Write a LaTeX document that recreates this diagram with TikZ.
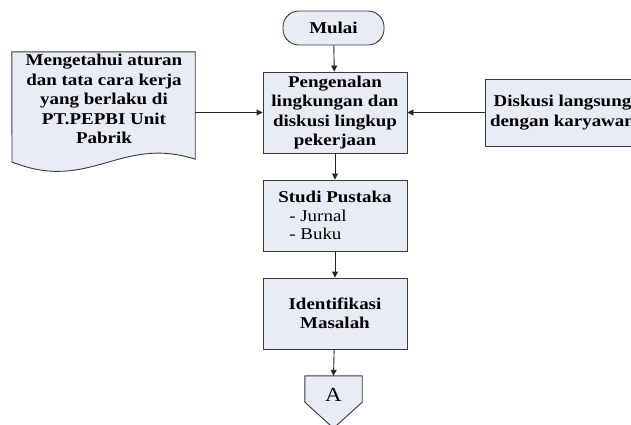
\documentclass[tikz,border=0pt]{standalone}
\usepackage{fontspec}
\setmainfont[FakeStretch=1.15]{Liberation Serif}
\usetikzlibrary{arrows.meta,calc}
\definecolor{boxfill}{HTML}{E7ECF7}
\definecolor{edge}{HTML}{3A3A3A}
\tikzset{
  shape frame/.style={draw=edge, fill=boxfill, line width=0.9pt},
  box/.style={shape frame, rectangle, align=center, inner sep=0pt,
    minimum width=144pt, font=\bfseries\fontsize{16.5}{19.5}\selectfont},
  label text/.style={align=center, inner sep=0pt,
    font=\bfseries\fontsize{16.5}{19.5}\selectfont},
  link/.style={draw=black!85, line width=0.9pt,
    -{Triangle[length=6pt,width=6pt]}},
}
\begin{document}
\begin{tikzpicture}[x=1pt,y=-1pt]
\useasboundingbox (0,0) rectangle (631,424);
\clip (0,0) rectangle (631,424);

% start terminal
\node[shape frame, rounded corners=16pt, minimum width=101pt, minimum height=34pt,
      inner sep=0pt, font=\bfseries\fontsize{16.5}{19.5}\selectfont] (mulai) at (333.5,28) {Mulai};

% main column
\node[box, minimum height=81pt] (peng) at (335,112.5)
  {Pengenalan\\lingkungan dan\\diskusi lingkup\\pekerjaan};
\node[box, minimum height=71pt, align=left] (studi) at (335,215.5)
  {\textbf{Studi Pustaka}\\[-1pt]
   \mdseries\hspace*{11pt}- Jurnal\\[-1pt]
   \mdseries\hspace*{11pt}- Buku};
\node[box, minimum height=71pt] (ident) at (335,313.5) {Identifikasi\\Masalah};

% off-page connector
\node[inner sep=0pt, minimum width=57pt, minimum height=26pt,
      font=\fontsize{20}{22}\selectfont] (offpage) at (333.5,389) {};
\path[shape frame] (offpage.north west) -- (offpage.north east) -- (offpage.south east)
  -- ($(offpage.south)+(0,26)$) -- (offpage.south west) -- cycle;
\node[inner sep=0pt, font=\fontsize{20}{22}\selectfont] (alabel) at (333.5,395) {A};

% document shape on the left
\node[inner sep=0pt, minimum width=183pt, minimum height=107pt] (doc) at (103.5,105.5) {};
\path[shape frame] (doc.north west) -- (doc.north east) -- (doc.south east)
  .. controls (120,135) and (90,193) .. (12,162) -- cycle;
\node[label text] (doctext) at (104,99)
  {Mengetahui aturan\\dan tata cara kerja\\yang berlaku di\\PT.PEPBI Unit\\Pabrik};

% input box on the right
\node[box, minimum width=155pt, minimum height=67pt] (disk) at (562.5,112.5)
  {Diskusi langsung\\dengan karyawan};

% connectors
\draw[link] (mulai) -- (peng);
\draw[link] (peng) -- (studi);
\draw[link] (studi) -- (ident);
\draw[link] (ident) -- (offpage.north);
\draw[link] (doc.east |- peng.west) -- (peng.west);
\draw[link] (disk.west) -- (peng.east);
\end{tikzpicture}
\end{document}
